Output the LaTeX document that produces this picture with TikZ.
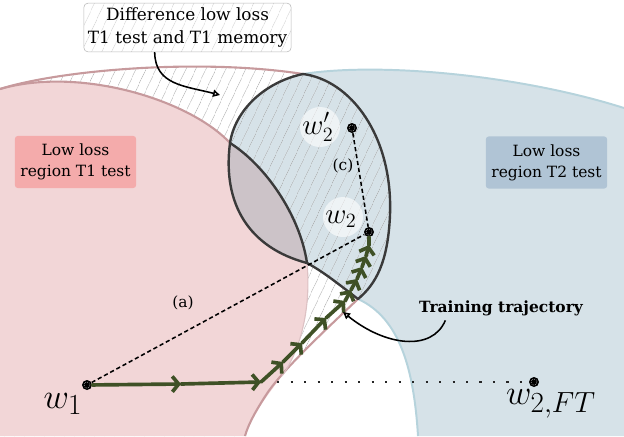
\documentclass[tikz,border=0pt]{standalone}
\usepackage[no-math]{fontspec}
\setmainfont{DejaVu Serif}
\usepackage{xcolor}
\usepackage{tikz}
\usetikzlibrary{arrows.meta,patterns.meta,positioning,calc}

\definecolor{tonepink}{HTML}{F2D6D7}
\definecolor{edgepink}{HTML}{C79A9D}
\definecolor{toneblue}{HTML}{D6E2E8}
\definecolor{edgeblue}{HTML}{B6D3DC}
\definecolor{tonegrey}{HTML}{CCC3C8}
\definecolor{lensdark}{HTML}{3A3A3A}
\definecolor{trajgreen}{HTML}{3F5126}
\definecolor{boxpink}{HTML}{F4ABAB}
\definecolor{boxblue}{HTML}{B0C4D5}

% region outlines (pixel units, y downwards)
\newcommand{\memoryregion}{(lft) .. controls (60,70) and (200,58) .. (top) .. controls (350,80) and (393,135) .. (390,215) .. controls (388,262) and (376,284) .. (tip) .. controls (320,335) and (285,368) .. (268,392) .. controls (256,410) and (248,425) .. (bot) -- (0,436) -- cycle}
\newcommand{\testregion}{(lft) .. controls (80,66) and (190,100) .. (jn) .. controls (265,165) and (300,215) .. (kn) .. controls (311,305) and (302,348) .. (282,376) .. controls (262,402) and (250,420) .. (bot) -- (0,436) -- cycle}
\newcommand{\taskregion}{(top) .. controls (380,62) and (520,75) .. (624,108) -- (624,436) -- (418,436) .. controls (414,370) and (400,318) .. (tip) .. controls (336,282) and (322,271) .. (kn) .. controls (250,248) and (222,205) .. (jn) .. controls (235,110) and (265,82) .. (top) -- cycle}

\tikzset{
  hatch/.style={pattern={Lines[angle=65,distance=6.5pt,line width=0.45pt]}, pattern color=gray!80},
  memline/.style={draw=edgepink, line width=1.5pt},
  t2line/.style={draw=edgeblue, line width=1.4pt},
  lens/.style={draw=lensdark, line width=1.7pt, line join=round},
  lossbox/.style={rounded corners=2pt, align=center, minimum width=3.03cm, minimum height=1.3cm, inner sep=2pt, font=\fontsize{11}{15}\selectfont},
  diffbox/.style={draw=gray!55, rounded corners=3pt, preaction={fill=white}, hatch, pattern color=gray!45, align=center, minimum width=5.18cm, minimum height=1.22cm, inner sep=1pt, font=\fontsize{12}{16}\selectfont},
  wdot/.style={circle, fill=black, inner sep=0pt, minimum size=2.5mm, path picture={\draw[white, line width=0.35pt, densely dotted] (path picture bounding box.center) circle (0.75mm);}},
  halo/.style={circle, fill=white, fill opacity=0.6, inner sep=0pt, minimum size=1cm},
  linkdash/.style={densely dashed, line width=1.1pt},
  linkdot/.style={line width=1.6pt, gray!30!black, dash pattern=on 1.6pt off 8pt},
  traj/.style={trajgreen, line width=2.6pt, line cap=round},
  trajstep/.style={traj, -{Straight Barb[length=4.5pt,width=11pt]}},
  callout/.style={line width=1.1pt, -{Triangle[open,length=5pt,width=5pt]}},
  lbl/.style={font=\fontsize{11}{13}\selectfont},
}

\begin{document}
\begin{tikzpicture}[x=0.025cm, y=-0.025cm]
		\useasboundingbox (0,0) rectangle (624,436);
		\clip (0,0) rectangle (624,436);

		\coordinate (lft) at (0,89);
		\coordinate (top) at (303,74);
		\coordinate (jn) at (230,143);
		\coordinate (kn) at (307,263);
		\coordinate (tip) at (358,299);
		\coordinate (bot) at (245,436);

		% regions
		\fill[toneblue] \taskregion;
		\fill[hatch] \memoryregion;
		\fill[tonepink] \testregion;
		\begin{scope}
			\clip \taskregion;
			\fill[tonegrey] \testregion;
		\end{scope}

		% borders
		\draw[memline] (lft) .. controls (60,70) and (200,58) .. (top);
		\draw[memline] (tip) .. controls (320,335) and (285,368) .. (268,392) .. controls (256,410) and (248,425) .. (bot);
		\draw[memline] (lft) .. controls (80,66) and (190,100) .. (jn);
		\draw[draw=edgepink!60, line width=0.8pt] (kn) .. controls (311,305) and (302,348) .. (282,376);
		\draw[t2line] (top) .. controls (380,62) and (520,75) .. (624,108);
		\draw[t2line] (418,436) .. controls (414,370) and (400,318) .. (tip);
		\draw[lens] (top) .. controls (350,80) and (393,135) .. (390,215) .. controls (388,262) and (376,284) .. (tip) .. controls (336,282) and (322,271) .. (kn) .. controls (250,248) and (222,205) .. (jn) .. controls (235,110) and (265,82) .. (top) -- cycle;
		\draw[lens] (jn) .. controls (265,165) and (300,215) .. (kn);

		% points
		\node[halo] (w2halo) at (343,217) {};
		\node[halo] (w2phalo) at (320,127) {};
		\node[wdot] (w1) at (87,385) {};
		\node[wdot] (w2) at (369,232) {};
		\node[wdot] (w2p) at (352,128) {};
		\node[wdot] (w2ft) at (534,382) {};

		\node[font=\Huge] (w1lab) at (63,404) {$w_1$};
		\node[font=\huge] (w2lab) at (341,219) {$w_2$};
		\node[font=\huge] (w2plab) at (318,127) {$w_2'$};
		\node[font=\Huge] (w2ftlab) at (551,404) {$w_{2,FT}$};

		% distances
		\draw[linkdash] (w1) -- (w2);
		\draw[linkdash] (w2p) -- (w2);
		\coordinate (dotstart) at (277,382);
		\draw[linkdot] (dotstart) -- (w2ft);
		\node[lbl] (alab) at (183,303) {(a)};
		\node[lbl] (clab) at (343,166) {(c)};

		% trajectory
		\coordinate (t1) at (181,384);
		\coordinate (t2) at (261,382);
		\coordinate (t3) at (283,362);
		\coordinate (t4) at (302,343);
		\coordinate (t5) at (326,318);
		\coordinate (t6) at (345,301);
		\coordinate (t7) at (351,290);
		\coordinate (t8) at (357,279);
		\coordinate (t9) at (362,267);
		\coordinate (t10) at (366,256);
		\coordinate (t11) at (369,245);
		\draw[trajstep] (w1) -- (t1);
		\foreach \a/\b in {t1/t2,t2/t3,t3/t4,t4/t5,t5/t6,t6/t7,t7/t8,t8/t9,t9/t10,t10/t11}
			\draw[trajstep] (\a) -- (\b);
		\draw[traj] (t11) -- (w2);

		% boxes
		\node[lossbox, fill=boxpink] (t1box) at (75.5,162) {Low loss\\region T1 test};
		\node[lossbox, fill=boxblue] (t2box) at (546.5,162.5) {Low loss\\region T2 test};
		\node[diffbox] (diff) at (187.5,27.5) {Difference low loss\\T1 test and T1 memory};
		\node[font=\fontsize{11}{13}\selectfont\bfseries, anchor=base] (tt) at (501,312) {Training trajectory};

		% callouts
		\coordinate (diffto) at (220,95);
		\coordinate (ttto) at (343,312);
		\draw[callout] ([xshift=-0.82cm]diff.south) .. controls (155,85) and (185,86) .. (diffto);
		\draw[callout] ([xshift=0.78cm]tt.south west) .. controls (432,352) and (385,346) .. (ttto);
	\end{tikzpicture}
\end{document}
